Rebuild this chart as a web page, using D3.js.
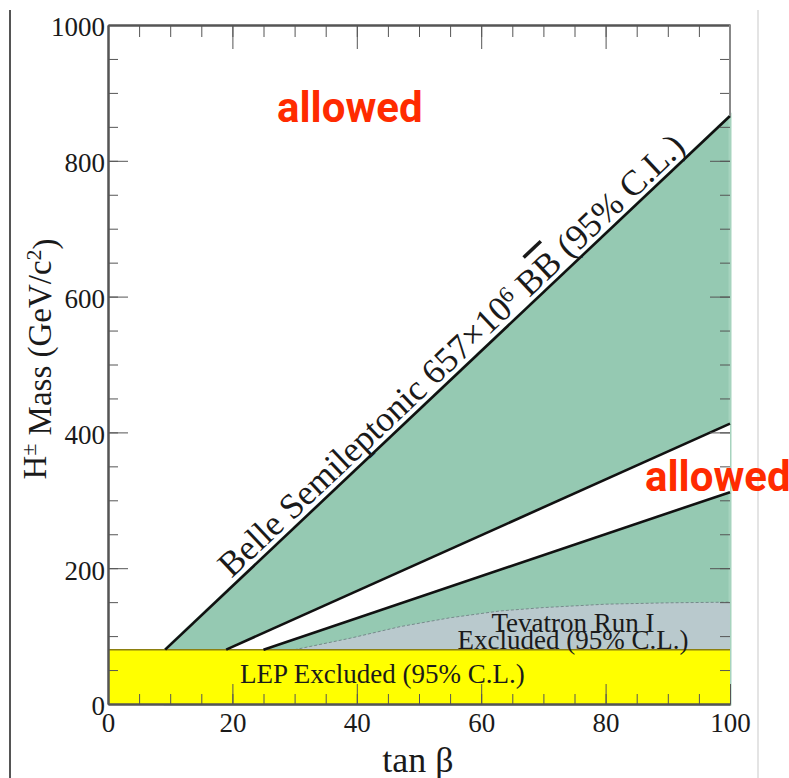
<!DOCTYPE html>
<html lang="en">
  <head>
    <meta charset="utf-8">
    <script src="https://d3js.org/d3.v7.min.js"></script>
    <title>Charged Higgs mass limits</title>
    <style>
      body { margin: 0; background: #fff; }
      svg text { font-family: "Liberation Serif", "Times New Roman", serif; fill: #1a1a1a; }
      .allowed { font-family: Roboto, "DejaVu Sans", sans-serif !important; font-weight: 700; fill: #ff2b00 !important; }
    </style>
  </head>
  <body>
  <script type="text/javascript">

    // limit curves, [tan beta, mass in GeV/c^2]
    var belleLimit = [[9.2, 80], [100, 866]];
    var bandUpper = [[19.0, 80], [100, 413]];
    var bandLower = [[25.0, 80], [100, 312]];
    var tevatron = [[30, 80], [39, 97], [47, 114], [55, 127], [63, 137], [70, 142], [80, 147], [90, 149], [100, 150]];
    var lepLimit = 80;

    var xMajor = [0, 20, 40, 60, 80, 100];
    var yMajor = [0, 200, 400, 600, 800, 1000];
    var xMinor = d3.range(0, 101, 5);
    var yMinor = d3.range(0, 1001, 50);

    var width = 789, height = 778;

    var svg = d3.select('body').append('svg')
      .attr('width', width)
      .attr('height', height);

    var x = d3.scaleLinear().domain([0, 100]).range([108, 730]);
    var y = d3.scaleLinear().domain([0, 1000]).range([704, 25]);

    // outer frame bits of the slide
    svg.append('line').attr('x1', 10).attr('x2', 10).attr('y1', 10).attr('y2', height)
      .style('stroke', '#555').style('stroke-width', 2);
    svg.append('line').attr('x1', 758).attr('x2', 758).attr('y1', 10).attr('y2', height)
      .style('stroke', '#e4e4e4').style('stroke-width', 2);

    var area = d3.line().x(function(d) { return x(d[0]); }).y(function(d) { return y(d[1]); });

    // excluded by Belle (whole wedge first, allowed band cut out after)
    var wedge = belleLimit.concat([[100, 0], [belleLimit[0][0], 0]]);
    svg.append('path')
      .attr('d', area(wedge) + 'Z')
      .style('fill', '#95c9b2')
      .style('stroke', '#a6d3be')
      .style('stroke-width', 3);

    var band = bandUpper.concat(bandLower.slice().reverse());
    svg.append('path')
      .attr('d', area(band) + 'Z')
      .style('fill', '#fff');

    svg.append('path')
      .attr('d', area(tevatron.concat([[100, lepLimit]])) + 'Z')
      .style('fill', '#b9c9cd');
    svg.append('path')
      .attr('d', area(tevatron))
      .style('fill', 'none')
      .style('stroke', '#6a7a7e')
      .style('stroke-width', 0.8)
      .style('stroke-dasharray', '3,2');

    svg.append('rect')
      .attr('x', x(0))
      .attr('y', y(lepLimit))
      .attr('width', x(100) - x(0))
      .attr('height', y(0) - y(lepLimit))
      .style('fill', '#ffff00');
    svg.append('line')
      .attr('x1', x(0)).attr('x2', x(100))
      .attr('y1', y(lepLimit)).attr('y2', y(lepLimit))
      .style('stroke', '#8c7f10').style('stroke-width', 1.5);

    [belleLimit, bandUpper, bandLower].forEach(function(pts) {
      svg.append('path')
        .attr('d', area(pts))
        .style('fill', 'none')
        .style('stroke', '#111')
        .style('stroke-width', 2.6);
    });

    // axes, ticks point inside
    function styleAxis(g) {
      g.selectAll('.tick line').style('stroke', '#555');
      g.selectAll('.domain').style('stroke', '#555').style('stroke-width', 2);
      g.selectAll('text').style('font-size', '27px').style('font-family', '"Liberation Serif", serif').style('fill', '#1a1a1a');
    }

    svg.append('g').attr('transform', 'translate(0,' + y(0) + ')')
      .call(d3.axisBottom(x).tickValues(xMinor).tickSizeInner(-10).tickSizeOuter(0).tickFormat(''))
      .call(styleAxis);
    svg.append('g').attr('transform', 'translate(0,' + y(0) + ')')
      .call(d3.axisBottom(x).tickValues(xMajor).tickSizeInner(-20).tickSizeOuter(0).tickPadding(9).tickFormat(d3.format('d')))
      .call(styleAxis);
    svg.append('g').attr('transform', 'translate(0,' + y(1000) + ')')
      .call(d3.axisTop(x).tickValues(xMinor).tickSizeInner(-12).tickSizeOuter(0).tickFormat(''))
      .call(styleAxis);
    svg.append('g').attr('transform', 'translate(0,' + y(1000) + ')')
      .call(d3.axisTop(x).tickValues(xMajor).tickSizeInner(-24).tickSizeOuter(0).tickFormat(''))
      .call(styleAxis);

    svg.append('g').attr('transform', 'translate(' + x(0) + ',0)')
      .call(d3.axisLeft(y).tickValues(yMinor).tickSizeInner(-10).tickSizeOuter(0).tickFormat(''))
      .call(styleAxis);
    svg.append('g').attr('transform', 'translate(' + x(0) + ',0)')
      .call(d3.axisLeft(y).tickValues(yMajor).tickSizeInner(-20).tickSizeOuter(0).tickPadding(3).tickFormat(d3.format('d')))
      .call(styleAxis)
      .selectAll('text').attr('dy', '0.4em');

    var right1 = svg.append('g').attr('transform', 'translate(' + x(100) + ',0)')
      .call(d3.axisRight(y).tickValues(yMinor).tickSizeInner(-10).tickSizeOuter(0).tickFormat(''))
      .call(styleAxis);
    right1.select('.domain').remove();
    var right2 = svg.append('g').attr('transform', 'translate(' + x(100) + ',0)')
      .call(d3.axisRight(y).tickValues(yMajor).tickSizeInner(-20).tickSizeOuter(0).tickFormat(''))
      .call(styleAxis);
    right2.select('.domain').remove();
    // right frame only visible above the Belle wedge
    svg.append('line')
      .attr('x1', x(100)).attr('x2', x(100))
      .attr('y1', y(1000)).attr('y2', y(belleLimit[1][1]))
      .style('stroke', '#888').style('stroke-width', 2);

    // axis titles
    svg.append('text')
      .attr('x', 418).attr('y', 772)
      .attr('text-anchor', 'middle')
      .style('font-size', '36px')
      .text('tan β');

    var ylab = svg.append('text')
      .attr('transform', 'translate(46,359) rotate(-90)')
      .attr('text-anchor', 'middle')
      .style('font-size', '33px');
    ylab.append('tspan').text('H');
    ylab.append('tspan').attr('dy', '-0.45em').style('font-size', '22px').text('±');
    ylab.append('tspan').attr('dy', '0.45em').text(' Mass (GeV/c');
    ylab.append('tspan').attr('dy', '-0.45em').style('font-size', '22px').text('2');
    ylab.append('tspan').attr('dy', '0.45em').text(')');

    // region labels
    var p0 = [x(belleLimit[0][0]), y(belleLimit[0][1])];
    var p1 = [x(belleLimit[1][0]), y(belleLimit[1][1])];
    var ang = Math.atan2(p1[1] - p0[1], p1[0] - p0[0]) * 180 / Math.PI;
    var belle = svg.append('text')
      .attr('transform', 'translate(' + p0[0] + ',' + p0[1] + ') rotate(' + ang + ')')
      .attr('x', 97).attr('y', -6)
      .style('font-size', '35.5px');
    belle.append('tspan').text('Belle Semileptonic 657×10');
    belle.append('tspan').attr('dy', '-0.45em').style('font-size', '23px').text('6');
    belle.append('tspan').attr('dy', '0.3em').text(' B');
    belle.append('tspan').style('text-decoration', 'overline').text('B');
    belle.append('tspan').text(' (95% C.L.)');

    svg.append('text')
      .attr('x', 573).attr('y', 632)
      .attr('text-anchor', 'middle')
      .style('font-size', '27px')
      .text('Tevatron Run I');
    svg.append('text')
      .attr('x', 573).attr('y', 649)
      .attr('text-anchor', 'middle')
      .style('font-size', '27px')
      .text('Excluded (95% C.L.)');

    svg.append('text')
      .attr('x', 240).attr('y', 683)
      .style('font-size', '27px')
      .text('LEP Excluded (95% C.L.)');

    svg.append('text').attr('class', 'allowed')
      .attr('x', 277).attr('y', 122)
      .style('font-size', '42px')
      .text('allowed');
    svg.append('text').attr('class', 'allowed')
      .attr('x', 645).attr('y', 491)
      .style('font-size', '42px')
      .text('allowed');

  </script>
  </body>
</html>
